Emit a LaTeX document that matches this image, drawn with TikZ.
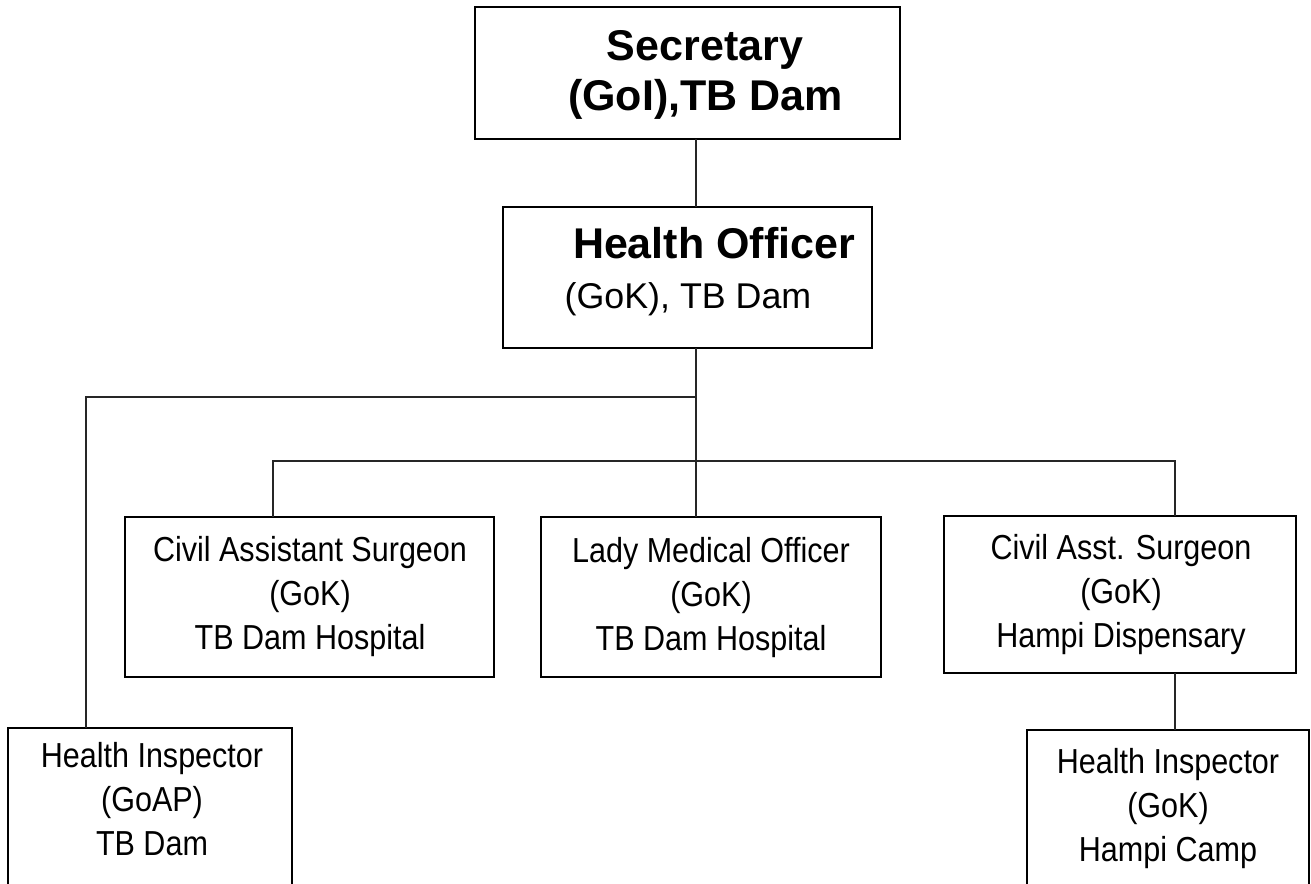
\documentclass[tikz,border=0pt]{standalone}
\usepackage{fontspec}
\setmainfont{Liberation Sans}
\newfontfamily\tallfont[FakeStretch=0.88]{Liberation Sans}
\begin{document}
\begin{tikzpicture}[x=1pt,y=-1pt,
  box/.style={draw=black, line width=1.6pt, rectangle, outer sep=0pt, inner sep=0pt},
  conn/.style={draw=black!85, line width=1.3pt},
  lbl/.style={inner sep=0pt, align=center, font=\tallfont\fontsize{34.7pt}{44pt}\selectfont},
  bigb/.style={inner sep=0pt, anchor=base, font=\fontsize{43pt}{50pt}\selectfont\bfseries},
  midr/.style={inner sep=0pt, anchor=base, font=\fontsize{35.8pt}{44pt}\selectfont}]
\useasboundingbox (0,0) rectangle (1311,883);
\clip (0,0) rectangle (1311,883);
% boxes
\node[box, minimum width=425pt, minimum height=132pt] (sec) at (687.5,73) {};
\node[box, minimum width=369pt, minimum height=141pt] (ho) at (687.5,277.5) {};
\node[box, minimum width=369pt, minimum height=160pt] (cas) at (309.5,597) {};
\node[box, minimum width=340pt, minimum height=160pt] (lmo) at (711,597) {};
\node[box, minimum width=352pt, minimum height=157pt] (cas2) at (1120,594.5) {};
\node[box, minimum width=284pt, minimum height=172pt] (hiL) at (150,814) {};
\node[box, minimum width=282pt, minimum height=170pt] (hiR) at (1168,815) {};
% texts
\node[bigb] (sect1) at (705,60) {Secretary};
\node[bigb] (sect2) at (705.5,110) {(GoI),TB Dam};
\node[bigb] (hot1) at (714,258) {Health Officer};
\node[midr] (hot2) at (688,308) {(GoK), TB Dam};
\node[lbl] (cast) at (310,597) {Civil Assistant Surgeon\\(GoK)\\TB Dam Hospital};
\node[lbl] (lmot) at (711,598) {Lady Medical Officer\\(GoK)\\TB Dam Hospital};
\node[lbl] (cas2t) at (1121,595) {Civil Asst. Surgeon\\(GoK)\\Hampi Dispensary};
\node[lbl] (hilt) at (152,799) {Health Inspector\\(GoAP)\\TB Dam};
\node[lbl] (hirt) at (1168,809) {Health Inspector\\(GoK)\\Hampi Camp};
% connector guides
\coordinate (trunk) at (696,0);
\coordinate (lx) at (86,0);
\coordinate (c1) at (273,0);
\coordinate (c3) at (1175,0);
\coordinate (j1) at (696,397);
\coordinate (j2) at (696,461);
% connectors
\draw[conn] (sec.south -| trunk) -- (ho.north -| trunk);
\draw[conn] (ho.south -| trunk) -- (lmo.north -| trunk);
\draw[conn] (j1) -| (hiL.north -| lx);
\draw[conn] (cas.north -| c1) -- (c1 |- j2) -- (c3 |- j2) -- (cas2.north -| c3);
\draw[conn] (cas2.south -| c3) -- (hiR.north -| c3);
\end{tikzpicture}
\end{document}
